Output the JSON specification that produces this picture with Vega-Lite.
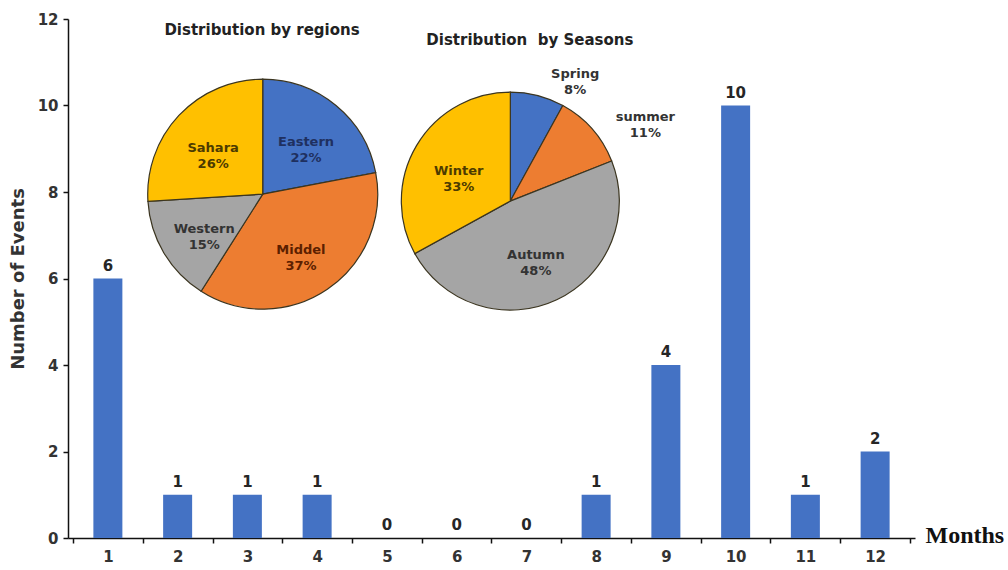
{
  "$schema": "https://vega.github.io/schema/vega-lite/v6.json",
  "width": 847,
  "height": 519,
  "autosize": "none",
  "padding": {"left": 68, "top": 19, "right": 93, "bottom": 32},
  "background": "white",
  "config": {"view": {"stroke": null}, "font": "DejaVu Sans"},
  "datasets": {
    "monthly": [
      {"month": 1, "events": 6},
      {"month": 2, "events": 1},
      {"month": 3, "events": 1},
      {"month": 4, "events": 1},
      {"month": 5, "events": 0},
      {"month": 6, "events": 0},
      {"month": 7, "events": 0},
      {"month": 8, "events": 1},
      {"month": 9, "events": 4},
      {"month": 10, "events": 10},
      {"month": 11, "events": 1},
      {"month": 12, "events": 2}
    ],
    "regions": [
      {"region": "Eastern", "pct": 22, "ord": 1},
      {"region": "Middel", "pct": 37, "ord": 2},
      {"region": "Western", "pct": 15, "ord": 3},
      {"region": "Sahara", "pct": 26, "ord": 4}
    ],
    "seasons": [
      {"region": "Spring", "pct": 8, "ord": 1},
      {"region": "summer", "pct": 11, "ord": 2},
      {"region": "Autumn", "pct": 48, "ord": 3},
      {"region": "Winter", "pct": 33, "ord": 4}
    ],
    "titles1": [{"t": "Distribution by regions"}],
    "titles2": [{"t": "Distribution\u00a0\u00a0by Seasons"}]
  },
  "layer": [
    {
      "data": {"name": "monthly"},
      "mark": {"type": "bar", "width": 29, "color": "#4472C4"},
      "encoding": {
        "x": {
          "field": "month", "type": "quantitative",
          "scale": {"domain": [0.5, 12.5], "nice": false, "zero": false},
          "axis": {
            "values": [1, 2, 3, 4, 5, 6, 7, 8, 9, 10, 11, 12],
            "format": "d", "ticks": false, "grid": false,
            "labelPadding": 11, "labelFont": "DejaVu Sans", "labelFontSize": 15,
            "labelFontWeight": "bold", "labelColor": "#333333",
            "domainColor": "#111111", "domainWidth": 1.5,
            "title": "Months", "titleFont": "Liberation Serif", "titleFontSize": 24,
            "titleFontWeight": "bold", "titleColor": "#111111",
            "titleAnchor": "start", "titleAlign": "left", "titleBaseline": "alphabetic",
            "titleX": 857, "titleY": 4
          }
        },
        "y": {
          "field": "events", "type": "quantitative",
          "scale": {"domain": [0, 12], "nice": false},
          "axis": {
            "values": [0, 2, 4, 6, 8, 10, 12], "grid": false,
            "tickSize": 5, "tickColor": "#111111", "tickWidth": 1.5,
            "domainColor": "#111111", "domainWidth": 1.5,
            "labelFont": "DejaVu Sans", "labelFontSize": 15, "labelFontWeight": "bold",
            "labelColor": "#333333", "labelPadding": 5,
            "title": "Number of Events", "titleFont": "DejaVu Sans", "titleFontSize": 18,
            "titleFontWeight": "bold", "titleColor": "#333333", "titlePadding": 10
          }
        }
      }
    },
    {
      "data": {"name": "monthly"},
      "mark": {"type": "text", "baseline": "bottom", "dy": -5, "font": "DejaVu Sans", "fontSize": 15, "fontWeight": "bold", "color": "#262626"},
      "encoding": {
        "x": {
          "field": "month", "type": "quantitative",
          "scale": {"domain": [0.5, 12.5], "nice": false, "zero": false},
          "axis": {
            "orient": "bottom",
            "values": [0.5, 1.5, 2.5, 3.5, 4.5, 5.5, 6.5, 7.5, 8.5, 9.5, 10.5, 11.5, 12.5],
            "labels": false, "domain": false, "ticks": true, "tickSize": 5,
            "tickColor": "#111111", "tickWidth": 1.5, "grid": false, "title": null
          }
        },
        "y": {"field": "events", "type": "quantitative", "scale": {"domain": [0, 12], "nice": false}, "axis": null},
        "text": {"field": "events", "type": "quantitative"}
      }
    },
    {
      "data": {"name": "titles1"},
      "mark": {"type": "text", "font": "DejaVu Sans", "fontSize": 15, "fontWeight": "bold", "color": "#222222"},
      "encoding": {
        "x": {"datum": 3.21, "type": "quantitative", "scale": {"domain": [0.5, 12.5], "nice": false, "zero": false}, "axis": null},
        "y": {"datum": 11.75, "type": "quantitative", "scale": {"domain": [0, 12], "nice": false}, "axis": null},
        "text": {"field": "t"}
      }
    },
    {
      "data": {"name": "titles2"},
      "mark": {"type": "text", "font": "DejaVu Sans", "fontSize": 15, "fontWeight": "bold", "color": "#222222"},
      "encoding": {
        "x": {"datum": 7.05, "type": "quantitative", "scale": {"domain": [0.5, 12.5], "nice": false, "zero": false}, "axis": null},
        "y": {"datum": 11.51, "type": "quantitative", "scale": {"domain": [0, 12], "nice": false}, "axis": null},
        "text": {"field": "t"}
      }
    },
    {
      "data": {"name": "regions"},
      "transform": [{"calculate": "datum.region + '\\n' + datum.pct + '%'", "as": "label"}],
      "encoding": {
        "x": {"datum": 3.22, "type": "quantitative", "scale": {"domain": [0.5, 12.5], "nice": false, "zero": false}, "axis": null},
        "y": {"datum": 7.95, "type": "quantitative", "scale": {"domain": [0, 12], "nice": false}, "axis": null},
        "theta": {"field": "pct", "type": "quantitative", "stack": true},
        "order": {"field": "ord", "type": "quantitative"}
      },
      "layer": [
        {
          "mark": {"type": "arc", "outerRadius": 115, "stroke": "#3b3520", "strokeWidth": 1.2},
          "encoding": {
            "color": {
              "field": "region", "type": "nominal", "legend": null,
              "scale": {
                "domain": ["Eastern", "Middel", "Western", "Sahara", "Spring", "summer", "Autumn", "Winter"],
                "range": ["#4472C4", "#ED7D31", "#A5A5A5", "#FFC000", "#4472C4", "#ED7D31", "#A5A5A5", "#FFC000"]
              }
            }
          }
        },
        {
          "mark": {"type": "text", "radius": 68, "lineBreak": "\n", "font": "DejaVu Sans", "fontSize": 13, "fontWeight": "bold", "baseline": "middle", "lineHeight": 16},
          "encoding": {
            "text": {"field": "label"},
            "fill": {
              "field": "region", "type": "nominal", "legend": null,
              "scale": {
                "domain": ["Eastern", "Middel", "Western", "Sahara", "Spring", "summer", "Autumn", "Winter"],
                "range": ["#1f3060", "#5c1f00", "#333333", "#4d3b00", "#333333", "#333333", "#333333", "#4d3b00"]
              }
            }
          }
        }
      ]
    },
    {
      "data": {"name": "seasons"},
      "transform": [{"calculate": "datum.region + '\\n' + datum.pct + '%'", "as": "label"}],
      "encoding": {
        "x": {"datum": 6.77, "type": "quantitative", "scale": {"domain": [0.5, 12.5], "nice": false, "zero": false}, "axis": null},
        "y": {"datum": 7.79, "type": "quantitative", "scale": {"domain": [0, 12], "nice": false}, "axis": null},
        "theta": {"field": "pct", "type": "quantitative", "stack": true},
        "order": {"field": "ord", "type": "quantitative"}
      },
      "layer": [
        {
          "mark": {"type": "arc", "outerRadius": 109, "stroke": "#3b3520", "strokeWidth": 1.2},
          "encoding": {
            "color": {
              "field": "region", "type": "nominal", "legend": null,
              "scale": {
                "domain": ["Eastern", "Middel", "Western", "Sahara", "Spring", "summer", "Autumn", "Winter"],
                "range": ["#4472C4", "#ED7D31", "#A5A5A5", "#FFC000", "#4472C4", "#ED7D31", "#A5A5A5", "#FFC000"]
              }
            }
          }
        },
        {
          "mark": {"type": "text", "radius": 60, "lineBreak": "\n", "font": "DejaVu Sans", "fontSize": 13, "fontWeight": "bold", "baseline": "middle", "lineHeight": 16},
          "encoding": {
            "text": {"condition": {"test": "datum.ord > 2", "field": "label"}, "value": ""},
            "fill": {
              "field": "region", "type": "nominal", "legend": null,
              "scale": {
                "domain": ["Eastern", "Middel", "Western", "Sahara", "Spring", "summer", "Autumn", "Winter"],
                "range": ["#1f3060", "#5c1f00", "#333333", "#4d3b00", "#333333", "#333333", "#333333", "#4d3b00"]
              }
            }
          }
        },
        {
          "mark": {"type": "text", "radius": 140, "dx": 30, "dy": 9, "lineBreak": "\n", "font": "DejaVu Sans", "fontSize": 13, "fontWeight": "bold", "baseline": "middle", "lineHeight": 16, "color": "#333333"},
          "encoding": {
            "text": {"condition": {"test": "datum.ord <= 2", "field": "label"}, "value": ""}
          }
        }
      ]
    }
  ],
  "resolve": {"axis": {"x": "independent", "y": "independent"}}
}
